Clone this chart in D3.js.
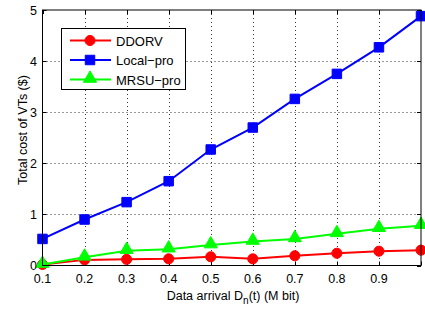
<!DOCTYPE html>
<html>
<head>
<script src="https://d3js.org/d3.v7.min.js"></script>
<style>
  body { margin: 0; background: #fff; }
  text { font-family: "Liberation Sans", Arial, sans-serif; fill: #000; }
</style>
</head>
<body>
<div id="chart"></div>
<script>
  var xVals = [0.1, 0.2, 0.3, 0.4, 0.5, 0.6, 0.7, 0.8, 0.9, 1.0];
  var ddorv = [0.02, 0.11, 0.12, 0.13, 0.17, 0.13, 0.19, 0.24, 0.28, 0.30];
  var localPro = [0.52, 0.90, 1.24, 1.65, 2.27, 2.70, 3.26, 3.75, 4.27, 4.88];
  var mrsuPro = [0.02, 0.16, 0.29, 0.32, 0.40, 0.47, 0.52, 0.62, 0.72, 0.78];
  var xTicks = [0.1, 0.2, 0.3, 0.4, 0.5, 0.6, 0.7, 0.8, 0.9, 1.0];
  var xTickLabels = ["0.1", "0.2", "0.3", "0.4", "0.5", "0.6", "0.7", "0.8", "0.9", ""];
  var yTicks = [0, 1, 2, 3, 4, 5];

  var series = [
    {name: "DDORV", values: ddorv, color: "#ff0000", marker: "circle"},
    {name: "Local\u2212pro", values: localPro, color: "#0000ff", marker: "square"},
    {name: "MRSU\u2212pro", values: mrsuPro, color: "#00ff00", marker: "triangle"}
  ];

  var W = 425, H = 312;
  var pLeft = 42.5, pRight = 421, pTop = 10, pBottom = 265.5;

  var svg = d3.select("#chart").append("svg")
    .attr("width", W).attr("height", H);

  var x = d3.scaleLinear().domain([0.1, 1.0]).range([pLeft, pRight]);
  var y = d3.scaleLinear().domain([0, 5]).range([pBottom, pTop]);

  // grid
  var grid = svg.append("g");
  grid.selectAll("line.gx").data(xTicks.slice(1, -1)).enter().append("line")
    .attr("x1", d => Math.round(x(d)) + 0.5).attr("x2", d => Math.round(x(d)) + 0.5)
    .attr("y1", pTop).attr("y2", pBottom)
    .attr("stroke", "#333").attr("stroke-width", 1).attr("stroke-dasharray", "1,3");
  grid.selectAll("line.gy").data(yTicks.slice(1, -1)).enter().append("line")
    .attr("y1", d => Math.round(y(d)) + 0.5).attr("y2", d => Math.round(y(d)) + 0.5)
    .attr("x1", pLeft).attr("x2", pRight)
    .attr("stroke", "#333").attr("stroke-width", 1).attr("stroke-dasharray", "1,3");

  // ticks (inside, all four sides)
  var ticks = svg.append("g").attr("stroke", "#000").attr("stroke-width", 1);
  xTicks.forEach(function(t) {
    var px = Math.round(x(t)) + 0.5;
    ticks.append("line").attr("x1", px).attr("x2", px).attr("y1", pBottom).attr("y2", pBottom - 4);
    ticks.append("line").attr("x1", px).attr("x2", px).attr("y1", pTop).attr("y2", pTop + 4);
  });
  yTicks.forEach(function(t) {
    var py = Math.round(y(t)) + 0.5;
    ticks.append("line").attr("x1", pLeft).attr("x2", pLeft + 4).attr("y1", py).attr("y2", py);
    ticks.append("line").attr("x1", pRight).attr("x2", pRight - 4).attr("y1", py).attr("y2", py);
  });

  // lines and markers
  var line = d3.line().x((d, i) => x(xVals[i])).y(d => y(d));
  var sym = {
    circle: d3.symbol().type(d3.symbolCircle).size(80),
    square: d3.symbol().type(d3.symbolSquare).size(90),
    triangle: d3.symbol().type(d3.symbolTriangle).size(75)
  };

  series.forEach(function(s) {
    svg.append("path").datum(s.values)
      .attr("d", line).attr("fill", "none")
      .attr("stroke", s.color).attr("stroke-width", 2);
    svg.selectAll(null).data(s.values).enter().append("path")
      .attr("d", sym[s.marker]())
      .attr("transform", (d, i) => "translate(" + x(xVals[i]) + "," + (y(d) - (s.marker == "triangle" ? 1 : 0)) + ")")
      .attr("fill", s.color).attr("stroke", s.color).attr("stroke-width", 1);
  });

  // box
  svg.append("rect").attr("x", pLeft).attr("y", pTop)
    .attr("width", pRight - pLeft).attr("height", pBottom - pTop)
    .attr("fill", "none").attr("stroke", "#000").attr("stroke-width", 1);

  // tick labels
  svg.selectAll("text.xt").data(xTicks).enter().append("text")
    .attr("x", d => x(d)).attr("y", 283)
    .attr("text-anchor", "middle").attr("font-size", 12.5)
    .text((d, i) => xTickLabels[i]);
  svg.selectAll("text.yt").data(yTicks).enter().append("text")
    .attr("x", 37).attr("y", d => y(d) + 4.5)
    .attr("text-anchor", "end").attr("font-size", 12.5)
    .text(d => d);

  // axis labels
  var xl = svg.append("text").attr("x", 233).attr("y", 300)
    .attr("text-anchor", "middle").attr("font-size", 12.5);
  xl.append("tspan").text("Data arrival D");
  xl.append("tspan").attr("dy", 4).attr("font-size", 10).text("n");
  xl.append("tspan").attr("dy", -4).text("(t) (M bit)");

  svg.append("text")
    .attr("transform", "translate(27,130) rotate(-90)")
    .attr("text-anchor", "middle").attr("font-size", 12.5)
    .text("Total cost of VTs ($)");

  // legend
  var lg = svg.append("g");
  lg.append("rect").attr("x", 61.5).attr("y", 28.5).attr("width", 124).attr("height", 61)
    .attr("fill", "#fff").attr("stroke", "#000").attr("stroke-width", 1);
  series.forEach(function(s, i) {
    var ly = 40.5 + i * 19.5;
    lg.append("line").attr("x1", 70).attr("x2", 111).attr("y1", ly).attr("y2", ly)
      .attr("stroke", s.color).attr("stroke-width", 2);
    lg.append("path").attr("d", sym[s.marker]())
      .attr("transform", "translate(90," + (ly - (s.marker == "triangle" ? 1 : 0)) + ")")
      .attr("fill", s.color).attr("stroke", s.color);
    lg.append("text").attr("x", 116).attr("y", ly + 5)
      .attr("font-size", 13).text(s.name);
  });
</script>
</body>
</html>
